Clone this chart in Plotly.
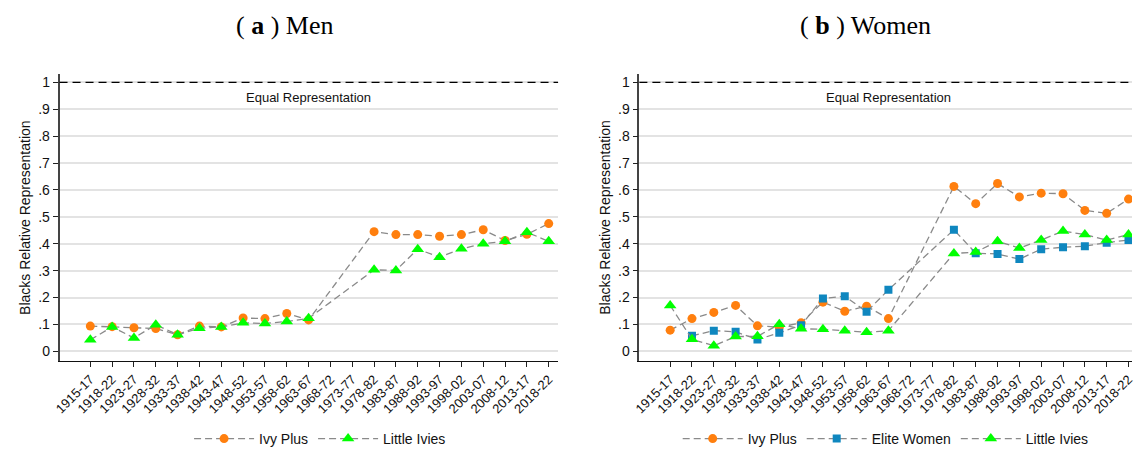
import plotly.graph_objects as go

periods = ["1915-17", "1918-22", "1923-27", "1928-32", "1933-37", "1938-42", "1943-47",
           "1948-52", "1953-57", "1958-62", "1963-67", "1968-72", "1973-77", "1978-82",
           "1983-87", "1988-92", "1993-97", "1998-02", "2003-07", "2008-12", "2013-17", "2018-22"]

men_ivy_plus = [0.094, 0.092, 0.088, 0.085, 0.062, 0.094, 0.091, 0.124, 0.122, 0.141, 0.117,
                None, None, 0.445, 0.434, 0.434, 0.428, 0.434, 0.452, 0.412, 0.435, 0.475]
men_little_ivies = [0.043, 0.091, 0.050, 0.099, 0.062, 0.086, 0.091, 0.106, 0.104, 0.111, 0.123,
                    None, None, 0.303, 0.301, 0.380, 0.350, 0.381, 0.400, 0.409, 0.443, 0.409]

women_ivy_plus = [0.079, 0.122, 0.145, 0.171, 0.095, 0.090, 0.106, 0.183, 0.149, 0.168, 0.122,
                  None, None, 0.613, 0.549, 0.624, 0.574, 0.588, 0.586, 0.524, 0.513, 0.566]
women_elite = [None, 0.058, 0.077, 0.073, 0.044, 0.069, 0.097, 0.197, 0.205, 0.147, 0.229,
               None, None, 0.452, 0.365, 0.362, 0.343, 0.380, 0.387, 0.391, 0.404, 0.414]
women_little_ivies = [0.171, 0.045, 0.021, 0.055, 0.056, 0.101, 0.084, 0.082, 0.077, 0.071, 0.077,
                      None, None, 0.364, 0.369, 0.409, 0.384, 0.414, 0.447, 0.434, 0.414, 0.434]

ytick_vals = [0, 0.1, 0.2, 0.3, 0.4, 0.5, 0.6, 0.7, 0.8, 0.9, 1.0]
ytick_text = ["0", ".1", ".2", ".3", ".4", ".5", ".6", ".7", ".8", ".9", "1"]

ORANGE = "#FF7F0E"
BLUE = "#0F87BF"
GREEN = "#00FF00"
LINE_GRAY = "#8a8a8a"
DASH = "7px,4px"
FONT = "Liberation Sans, Arial, sans-serif"

W, H = 1135, 455

fig = go.Figure()


def add_series(y, name, color, symbol, size, xa, ya, legend):
    fig.add_trace(go.Scatter(
        x=periods, y=y, name=name, mode="lines+markers", connectgaps=True,
        line=dict(color=LINE_GRAY, width=1.3, dash=DASH),
        marker=dict(color=color, symbol=symbol, size=size, line=dict(width=0)),
        xaxis=xa, yaxis=ya, legend=legend,
    ))


add_series(men_ivy_plus, "Ivy Plus", ORANGE, "circle", 9, "x", "y", "legend")
add_series(men_little_ivies, "Little Ivies", GREEN, "triangle-up", 11, "x", "y", "legend")
add_series(women_ivy_plus, "Ivy Plus", ORANGE, "circle", 9, "x2", "y2", "legend2")
add_series(women_elite, "Elite Women", BLUE, "square", 8, "x2", "y2", "legend2")
add_series(women_little_ivies, "Little Ivies", GREEN, "triangle-up", 11, "x2", "y2", "legend2")

ydom = [(H - 367) / H, (H - 75) / H]
xdom1 = [53 / W, 556 / W]
xdom2 = [638 / W, 1.0]

xcommon = dict(type="category", categoryorder="array", categoryarray=periods,
               tickangle=-45, ticks="outside", ticklen=5, tickwidth=1, tickcolor="#222",
               showline=True, linecolor="#111", linewidth=1.3, showgrid=False, zeroline=False,
               tickfont=dict(family=FONT, size=13, color="#111"))
ycommon = dict(range=[-0.034, 1.032], tickvals=ytick_vals, ticktext=ytick_text,
               ticks="outside", ticklen=5, tickwidth=1, tickcolor="#222",
               showline=True, linecolor="#444", linewidth=1.6,
               showgrid=True, gridcolor="#e3e3e3", gridwidth=1.5, zeroline=False,
               tickfont=dict(family=FONT, size=14, color="#111"))

fig.update_layout(
    width=W, height=H, margin=dict(l=0, r=0, t=0, b=0),
    paper_bgcolor="white", plot_bgcolor="white",
    font=dict(family=FONT, color="#111"),
    xaxis=dict(domain=xdom1, range=[-1.41, 21.43], anchor="y", **xcommon),
    yaxis=dict(domain=ydom, anchor="x", **ycommon),
    xaxis2=dict(domain=xdom2, range=[-1.41, 21.16], anchor="y2", **xcommon),
    yaxis2=dict(domain=ydom, anchor="x2", **ycommon),
    legend=dict(orientation="h", x=(xdom1[0] + xdom1[1]) / 2 + 0.01, xanchor="center",
                y=(H - 447) / H, yanchor="middle", itemwidth=60,
                font=dict(family=FONT, size=14, color="#111"), bgcolor="rgba(0,0,0,0)"),
    legend2=dict(orientation="h", x=(xdom2[0] + xdom2[1]) / 2, xanchor="center",
                 y=(H - 447) / H, yanchor="middle", itemwidth=60,
                 font=dict(family=FONT, size=14, color="#111"), bgcolor="rgba(0,0,0,0)"),
)

for xa in ["x", "x2"]:
    fig.add_shape(type="line", xref=f"{xa} domain", yref="y" if xa == "x" else "y2",
                  x0=0, x1=1, y0=1, y1=1, line=dict(color="black", width=1.3, dash="8px,5px"))
    fig.add_annotation(x="1963-67", y=0.944, xref=xa, yref="y" if xa == "x" else "y2",
                       text="Equal Representation", showarrow=False,
                       font=dict(family=FONT, size=13, color="#111"))

for xc, label in [(280 / W, "( <b>a</b> ) Men"), (866 / W, "( <b>b</b> ) Women")]:
    fig.add_annotation(x=xc, y=(H - 26) / H, xref="paper", yref="paper", text=label,
                       showarrow=False, xanchor="center", yanchor="middle",
                       font=dict(family="Liberation Serif, Times New Roman, serif", size=26, color="black"))

for xc in [18 / W, 603 / W]:
    fig.add_annotation(x=xc, y=(H - 221) / H, xref="paper", yref="paper",
                       text="Blacks Relative Representation", textangle=-90, showarrow=False,
                       xanchor="center", yanchor="middle",
                       font=dict(family=FONT, size=14, color="#111"))

fig.write_html("out.html")
